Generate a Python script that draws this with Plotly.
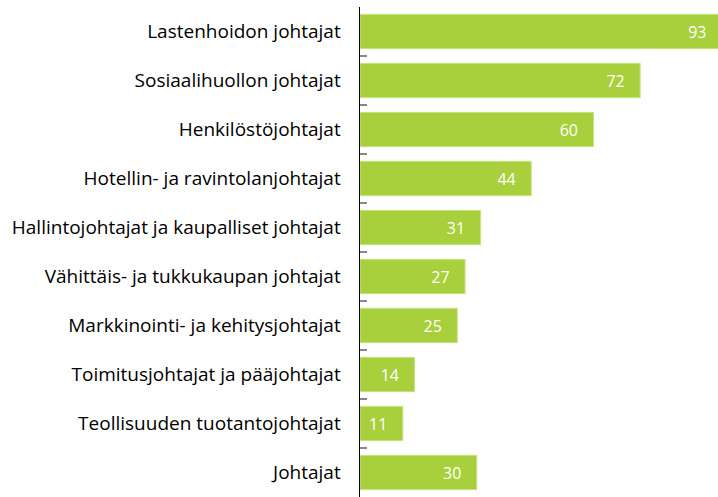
import plotly.graph_objects as go

categories = [
    "Lastenhoidon johtajat",
    "Sosiaalihuollon johtajat",
    "Henkilöstöjohtajat",
    "Hotellin- ja ravintolanjohtajat",
    "Hallintojohtajat ja kaupalliset johtajat",
    "Vähittäis- ja tukkukaupan johtajat",
    "Markkinointi- ja kehitysjohtajat",
    "Toimitusjohtajat ja pääjohtajat",
    "Teollisuuden tuotantojohtajat",
    "Johtajat",
]
values = [93, 72, 60, 44, 31, 27, 25, 14, 11, 30]

green = "#a8cf3c"
font_family = "Open Sans, Noto Sans, sans-serif"
pad = "\u00a0" * 3

fig = go.Figure()
fig.add_trace(go.Bar(
    y=categories,
    x=values,
    orientation="h",
    marker=dict(color=green, line=dict(color="#c8e283", width=1)),
    text=[str(v) + pad for v in values],
    textposition="inside",
    insidetextanchor="end",
    textangle=0,
    insidetextfont=dict(color="white", size=16, family=font_family),
    cliponaxis=True,
    hoverinfo="skip",
))

fig.update_layout(
    width=718, height=497,
    margin=dict(l=360, r=0, t=7, b=0),
    plot_bgcolor="white", paper_bgcolor="white",
    bargap=0.3,
    showlegend=False,
    uniformtext=dict(minsize=16, mode="show"),
    xaxis=dict(range=[0, 92], visible=False, fixedrange=True),
    yaxis=dict(
        autorange="reversed",
        showline=True, linecolor="black", linewidth=1.5,
        ticks="inside", tickson="boundaries", ticklen=7,
        tickcolor="#888888", tickwidth=1.5,
        ticklabelstandoff=14,
        tickfont=dict(size=19, color="black", family=font_family),
        showgrid=False,
        fixedrange=True,
    ),
)

fig.write_html(
    "out.html",
    config={"displayModeBar": False, "staticPlot": True},
    post_script="document.body.style.margin='0';document.body.style.overflow='hidden';",
)
